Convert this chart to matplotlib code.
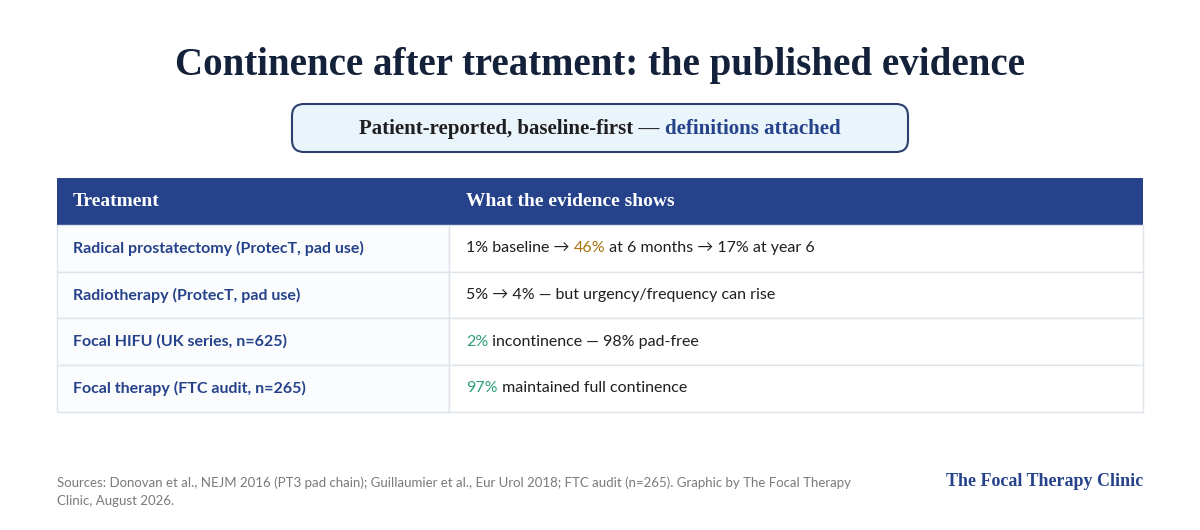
import matplotlib
matplotlib.use("Agg")
import matplotlib.pyplot as plt
from matplotlib.patches import Rectangle, FancyBboxPatch

W, H = 1200, 530
NAVY = "#25428a"
TEXT = "#1f1f1f"
GOLD = "#a8740a"
GREEN = "#2e9e78"
SERIF = ["Liberation Serif", "DejaVu Serif"]
SANS = ["Lato", "DejaVu Sans"]

title = "Continence after treatment: the published evidence"
subtitle = [("Patient-reported, baseline-first \u2014 ", TEXT), ("definitions attached", NAVY)]
headers = ["Treatment", "What the evidence shows"]
treatments = [
    "Radical prostatectomy (ProtecT, pad use)",
    "Radiotherapy (ProtecT, pad use)",
    "Focal HIFU (UK series, n=625)",
    "Focal therapy (FTC audit, n=265)",
]
evidence = [
    [("1% baseline \u2192 ", TEXT), ("46%", GOLD), (" at 6 months \u2192 17% at year 6", TEXT)],
    [("5% \u2192 4% \u2014 but urgency/frequency can rise", TEXT)],
    [("2%", GREEN), (" incontinence \u2014 98% pad-free", TEXT)],
    [("97%", GREEN), (" maintained full continence", TEXT)],
]
sources = ["Sources: Donovan et al., NEJM 2016 (PT3 pad chain); Guillaumier et al., Eur Urol 2018; FTC audit (n=265). Graphic by The Focal Therapy",
           "Clinic, August 2026."]
brand = "The Focal Therapy Clinic"

fig = plt.figure(figsize=(12, 5.3), dpi=100)
fig.patch.set_facecolor("white")
ax = fig.add_axes([0, 0, 1, 1])
ax.set_xlim(0, W)
ax.set_ylim(H, 0)
ax.axis("off")
renderer = fig.canvas.get_renderer()


def segments(x, y, parts, ha="left", **kw):
    # draw coloured runs one after the other
    texts = []
    cx = x
    for s, c in parts:
        t = ax.text(cx, y, s, color=c, va="center", ha="left", **kw)
        bb = t.get_window_extent(renderer)
        cx += bb.width
        texts.append(t)
    if ha == "center":
        shift = (cx - x) / 2
        for t in texts:
            px, py = t.get_position()
            t.set_position((px - shift, py))


ax.text(W / 2, 66, title, ha="center", va="center", fontsize=28, fontweight="bold",
        color="#14213a", family=SERIF)

ax.add_patch(FancyBboxPatch((292, 104), 616, 48, boxstyle="round,pad=0,rounding_size=12",
                            fc="#eaf4fb", ec="#2a3f6e", lw=1.5))
segments(W / 2, 129, subtitle, ha="center", fontsize=15, fontweight="bold", family=SERIF)

# table
x0, x1, xs = 57, 1143, 449
ax.add_patch(Rectangle((x0, 178), x1 - x0, 47, fc=NAVY, ec="none"))
ax.text(73, 201, headers[0], color="white", va="center", fontsize=14, fontweight="bold", family=SERIF)
ax.text(466, 201, headers[1], color="white", va="center", fontsize=14, fontweight="bold", family=SERIF)

row_h = 46.7
for i, (tr, ev) in enumerate(zip(treatments, evidence)):
    top = 225 + i * row_h
    ax.add_patch(Rectangle((x0, top), xs - x0, row_h, fc="#fafcfe", ec="#dfe4ea", lw=1))
    ax.add_patch(Rectangle((xs, top), x1 - xs, row_h, fc="white", ec="#dfe4ea", lw=1))
    ax.text(73, top + row_h / 2, tr, color=NAVY, va="center", fontsize=11.5,
            fontweight="bold", family=SANS)
    segments(466, top + row_h / 2, ev, fontsize=11.5, family=SANS)

ax.text(57, 483, sources[0], color="#7a7a7a", va="center", fontsize=9.5, family=SANS)
ax.text(57, 501, sources[1], color="#7a7a7a", va="center", fontsize=9.5, family=SANS)
ax.text(1143, 482, brand, color=NAVY, ha="right", va="center", fontsize=13,
        fontweight="bold", family=SERIF)

fig.savefig("out.png", dpi=100, facecolor="white")
